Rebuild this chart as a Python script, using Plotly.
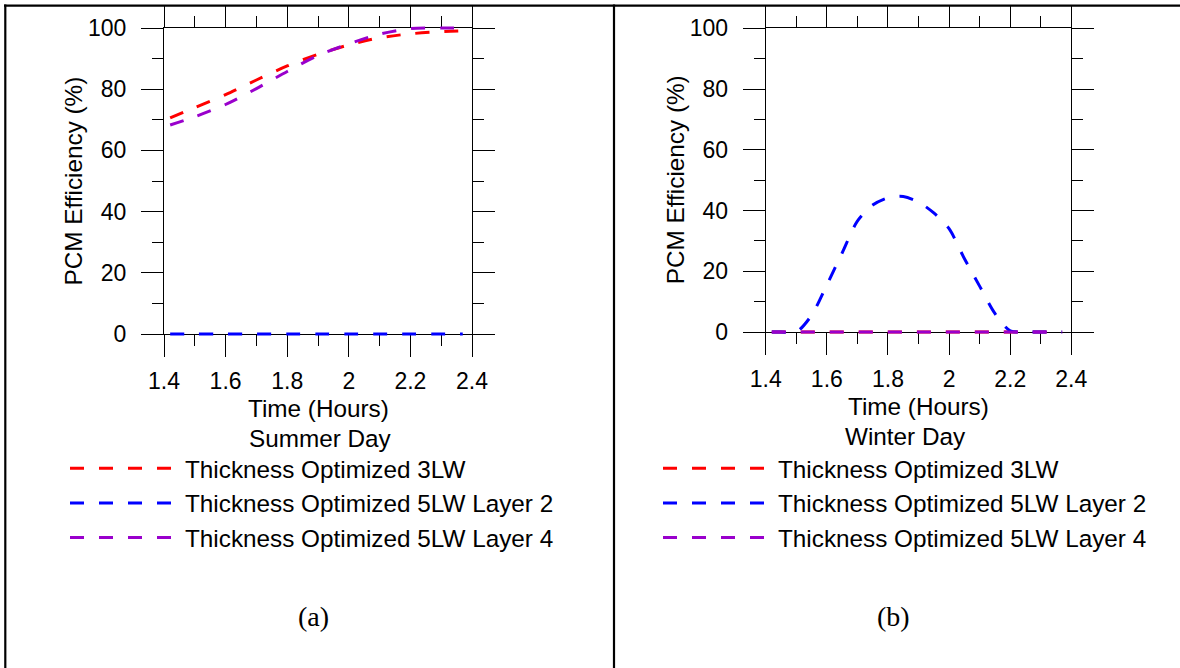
import plotly.graph_objects as go

# ---------------- data ----------------
t_summer = [1.42, 1.5, 1.6, 1.7, 1.8, 1.9, 2.0, 2.1, 2.2, 2.3, 2.37]
summer_3lw = [70.6, 74.0, 78.2, 83.0, 87.6, 91.4, 94.5, 96.8, 98.1, 98.8, 99.1]
summer_5lw_l2 = [0, 0, 0, 0, 0, 0, 0, 0, 0, 0, 0]
summer_5lw_l4 = [68.3, 71.0, 75.0, 80.2, 85.8, 91.0, 94.8, 98.0, 99.8, 100.0, 100.0]

t_winter = [1.42, 1.45, 1.5, 1.55, 1.6, 1.65, 1.7, 1.75, 1.8, 1.85,
            1.9, 1.95, 2.0, 2.05, 2.1, 2.15, 2.2, 2.25, 2.3, 2.37]
winter_3lw = [0, 0, 0, 0, 0, 0, 0, 0, 0, 0, 0, 0, 0, 0, 0, 0, 0, 0, 0, 0]
winter_5lw_l2 = [0, 0, 0, 5.5, 15.5, 26, 36.5, 41.8, 44.2, 44.6,
                 42.8, 39.2, 34, 24.2, 15.1, 6.1, 0.4, 0, 0, 0]
winter_5lw_l4 = [0, 0, 0, 0, 0, 0, 0, 0, 0, 0, 0, 0, 0, 0, 0, 0, 0, 0, 0, 0]

series_names = ["Thickness Optimized 3LW",
                "Thickness Optimized 5LW Layer 2",
                "Thickness Optimized 5LW Layer 4"]
series_colors = ["#ff0000", "#0000ff", "#9900cc"]

x_tickvals = [1.4, 1.6, 1.8, 2.0, 2.2, 2.4]
x_ticktext = ["1.4", "1.6", "1.8", "2", "2.2", "2.4"]
y_tickvals = [0, 20, 40, 60, 80, 100]
y_ticktext = ["0", "20", "40", "60", "80", "100"]

panel_titles = ["Summer Day", "Winter Day"]
panel_labels = ["(a)", "(b)"]
x_title = "Time (Hours)"
y_title = "PCM Efficiency (%)"

# ---------------- layout geometry (pixels) ----------------
W, H = 1180, 668
SANS = "Liberation Sans, Arial, sans-serif"
SERIF = "Liberation Serif, Times New Roman, serif"
TXT = 24.3

def px_x(v):
    return v / W

def px_y(v):
    return 1 - v / H

panels = [
    dict(left=164, right=472, top=28, bottom=334),
    dict(left=765.7, right=1071.3, top=28.3, bottom=332),
]
PAD = 4  # px padding of the (invisible) data area so lines at 0/100 are not clipped

fig = go.Figure()

# placeholder traces so the frame subplots (axes only) get drawn
for p in range(2):
    sfx = "" if p == 0 else "2"
    fig.add_trace(go.Scatter(x=[None], y=[None], mode="lines", showlegend=False,
                             hoverinfo="skip", xaxis="x" + sfx, yaxis="y" + sfx))

data_sets = [
    (t_summer, [summer_3lw, summer_5lw_l2, summer_5lw_l4]),
    (t_winter, [winter_3lw, winter_5lw_l2, winter_5lw_l4]),
]

for p, (tt, ys) in enumerate(data_sets):
    for name, color, yy in zip(series_names, series_colors, ys):
        fig.add_trace(go.Scatter(
            x=tt, y=yy, mode="lines", name=name,
            line=dict(color=color, width=3, dash="14px,15px", shape="spline", smoothing=0.8),
            xaxis="x%d" % (p + 3), yaxis="y%d" % (p + 3),
            legend="legend" if p == 0 else "legend2",
        ))

axis_font = dict(family=SANS, size=23, color="black")
layout = dict(width=W, height=H, margin=dict(l=0, r=0, t=0, b=0, pad=0, autoexpand=False),
              paper_bgcolor="white", plot_bgcolor="rgba(0,0,0,0)",
              showlegend=True, font=dict(family=SANS, color="black"))

for p, g in enumerate(panels):
    xd = [px_x(g["left"]), px_x(g["right"])]
    yd = [px_y(g["bottom"]), px_y(g["top"])]
    n = p + 1
    sfx = "" if n == 1 else str(n)
    layout["xaxis" + sfx] = dict(
        domain=xd, range=[1.4, 2.4], anchor="y" + sfx, automargin=False,
        tickmode="array", tickvals=x_tickvals, ticktext=x_ticktext,
        ticks="outside", ticklen=22, tickwidth=1, tickcolor="black", ticklabelstandoff=4,
        showline=True, linecolor="black", linewidth=1, mirror="ticks",
        showgrid=False, zeroline=False, tickfont=axis_font,
        minor=dict(ticks="outside", ticklen=11, tickwidth=1, tickcolor="black",
                   dtick=0.1, tick0=1.4, showgrid=False),
    )
    layout["yaxis" + sfx] = dict(
        domain=yd, range=[0, 100], anchor="x" + sfx, automargin=False,
        tickmode="array", tickvals=y_tickvals, ticktext=y_ticktext,
        ticks="outside", ticklen=22, tickwidth=1, tickcolor="black", ticklabelstandoff=10,
        showline=True, linecolor="black", linewidth=1, mirror="ticks",
        showgrid=False, zeroline=False, tickfont=axis_font,
        minor=dict(ticks="outside", ticklen=11, tickwidth=1, tickcolor="black",
                   dtick=10, tick0=0, showgrid=False),
    )
    # invisible data axes, slightly padded vertically
    ppu = (g["bottom"] - g["top"]) / 100.0
    r = PAD / ppu
    layout["xaxis%d" % (n + 2)] = dict(domain=xd, range=[1.4, 2.4], anchor="y%d" % (n + 2), visible=False)
    layout["yaxis%d" % (n + 2)] = dict(domain=[px_y(g["bottom"] + PAD), px_y(g["top"] - PAD)],
                                       range=[-r, 100 + r], anchor="x%d" % (n + 2), visible=False)

leg_common = dict(xanchor="left", yanchor="top", font=dict(family=SANS, size=TXT, color="black"),
                  itemwidth=110, bgcolor="rgba(0,0,0,0)", borderwidth=0, tracegroupgap=0)
layout["legend"] = dict(x=px_x(65), y=px_y(446), **leg_common)
layout["legend2"] = dict(x=px_x(658), y=px_y(446), **leg_common)

annotations = []
centers = [(g["left"] + g["right"]) / 2 for g in panels]
ytitle_x = [72.5, 675]
sub_x = [320, 905]
for p, g in enumerate(panels):
    cx = centers[p]
    annotations.append(dict(x=px_x(ytitle_x[p]), y=px_y((g["top"] + g["bottom"]) / 2), xref="paper", yref="paper",
                            text=y_title, textangle=-90, showarrow=False,
                            font=dict(family=SANS, size=TXT, color="black"),
                            xanchor="center", yanchor="middle"))
    annotations.append(dict(x=px_x(cx), y=px_y(g["bottom"] + 74), xref="paper", yref="paper",
                            text=x_title, showarrow=False, font=dict(family=SANS, size=TXT, color="black"),
                            xanchor="center", yanchor="middle"))
    annotations.append(dict(x=px_x(sub_x[p]), y=px_y(g["bottom"] + 104), xref="paper", yref="paper",
                            text=panel_titles[p], showarrow=False, font=dict(family=SANS, size=TXT, color="black"),
                            xanchor="center", yanchor="middle"))
label_x = [313, 893]
for p in range(2):
    annotations.append(dict(x=px_x(label_x[p]), y=px_y(616), xref="paper", yref="paper",
                            text=panel_labels[p], showarrow=False, font=dict(family=SERIF, size=28, color="black"),
                            xanchor="center", yanchor="middle"))
layout["annotations"] = annotations

# table-like frame lines
layout["shapes"] = [
    dict(type="line", xref="paper", yref="paper", x0=px_x(4), x1=1, y0=px_y(5.6), y1=px_y(5.6),
         line=dict(color="black", width=2.2)),
    dict(type="line", xref="paper", yref="paper", x0=px_x(5.3), x1=px_x(5.3), y0=0, y1=px_y(4.5),
         line=dict(color="black", width=2.2)),
    dict(type="line", xref="paper", yref="paper", x0=px_x(614), x1=px_x(614), y0=0, y1=px_y(4.5),
         line=dict(color="black", width=2.2)),
]

fig.update_layout(**layout)
fig.write_html("out.html")
